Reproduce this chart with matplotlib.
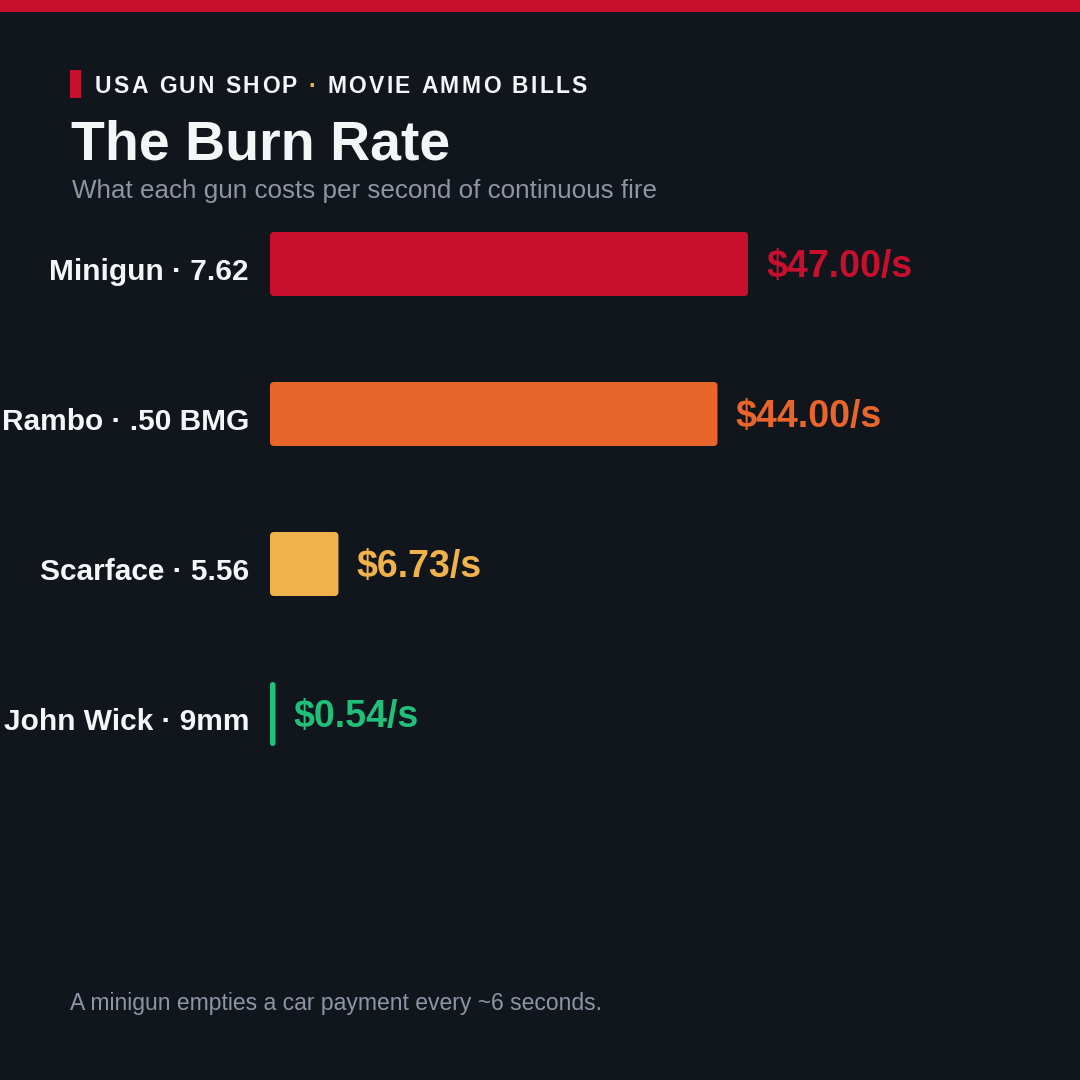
import matplotlib
matplotlib.use("Agg")
import matplotlib.pyplot as plt
from matplotlib.patches import FancyBboxPatch, Rectangle
from matplotlib.font_manager import FontProperties
from matplotlib.transforms import IdentityTransform

# chart data
guns = ["Minigun · 7.62", "Rambo · .50 BMG", "Scarface · 5.56", "John Wick · 9mm"]
cost_per_sec = [47.00, 44.00, 6.73, 0.54]
bar_colors = ["#c8102e", "#e8652b", "#f0b34b", "#20c07a"]

kicker_left = "USA GUN SHOP "
kicker_dot = "·"
kicker_right = " MOVIE AMMO BILLS"
title = "The Burn Rate"
subtitle = "What each gun costs per second of continuous fire"
footnote = "A minigun empties a car payment every ~6 seconds."

BG = "#11151c"
TEXT = "#f4f5f7"
GREY = "#8c96a4"
RED = "#c8102e"
AMBER = "#f0b34b"

plt.rcParams["font.family"] = ["Liberation Sans", "DejaVu Sans"]

W = H = 1080
fig = plt.figure(figsize=(10.8, 10.8), dpi=100, facecolor=BG)


def px(x, y):
    # pixel coords from top-left -> figure fraction
    return x / W, 1 - y / H


# top red band and kicker marker
fig.patches.append(Rectangle(px(0, 12), 1, 12 / H, transform=fig.transFigure,
                             facecolor=RED, edgecolor="none"))
fig.patches.append(Rectangle(px(70, 98), 11 / W, 28 / H, transform=fig.transFigure,
                             facecolor=RED, edgecolor="none"))

# kicker with letter spacing, drawn char by char
renderer = fig.canvas.get_renderer()
kprop = FontProperties(family=["Liberation Sans", "DejaVu Sans"], weight="bold", size=16.5)


def advance(c):
    w1 = renderer.get_text_width_height_descent("|" + c + "|", kprop, False)[0]
    w0 = renderer.get_text_width_height_descent("||", kprop, False)[0]
    return w1 - w0


chars = [(c, TEXT) for c in kicker_left] + [(c, AMBER) for c in kicker_dot] + \
        [(c, TEXT) for c in kicker_right]
natural = sum(advance(c) for c, _ in chars)
spacing = (492 - natural) / (len(chars) - 1)
x = 95
for c, col in chars:
    fig.text(x, H - 93, c, fontproperties=kprop, color=col, transform=IdentityTransform(),
             ha="left", va="baseline")
    x += advance(c) + spacing

fig.text(*px(71, 160), title, fontsize=40, weight="bold", color=TEXT, va="baseline")
fig.text(*px(72, 198), subtitle, fontsize=18.7, color=GREY, va="baseline")
fig.text(*px(70, 1010), footnote, fontsize=16.5, color=GREY, va="baseline")

# bar axes: bar centres at 264, 414, 564, 714 px
ax = fig.add_axes([270 / W, 1 - 789 / H, 810 / W, 600 / H])
ax.set_facecolor(BG)
ax.set_xlim(0, 810 / (478 / 47))
ax.set_ylim(3.5, -0.5)
ax.axis("off")

bar_h = 64 / 150
bars = ax.barh(range(len(guns)), cost_per_sec, height=bar_h, alpha=0)

xu = 478 / 47          # px per x unit
yu = 150               # px per y unit
r_px = 4
aspect = (1 / yu) / (1 / xu)
for rect, col in zip(bars, bar_colors):
    bx, by = rect.get_x(), rect.get_y()
    bw, bh = rect.get_width(), rect.get_height()
    r = min(r_px / xu, bw / 2)
    ax.add_patch(FancyBboxPatch((bx, by), bw, bh,
                                boxstyle=f"round,pad=0,rounding_size={r}",
                                mutation_aspect=aspect, facecolor=col, edgecolor="none"))

for i, (name, v, col) in enumerate(zip(guns, cost_per_sec, bar_colors)):
    ax.annotate(name, xy=(0, i), xytext=(-21, -16), textcoords="offset pixels",
                ha="right", va="baseline", fontsize=21.5, weight="bold", color=TEXT,
                annotation_clip=False)
    ax.annotate(f"${v:.2f}/s", xy=(v, i), xytext=(18, -13), textcoords="offset pixels",
                ha="left", va="baseline", fontsize=27, weight="bold", color=col,
                annotation_clip=False)

fig.savefig("out.png", dpi=100, facecolor=BG)
